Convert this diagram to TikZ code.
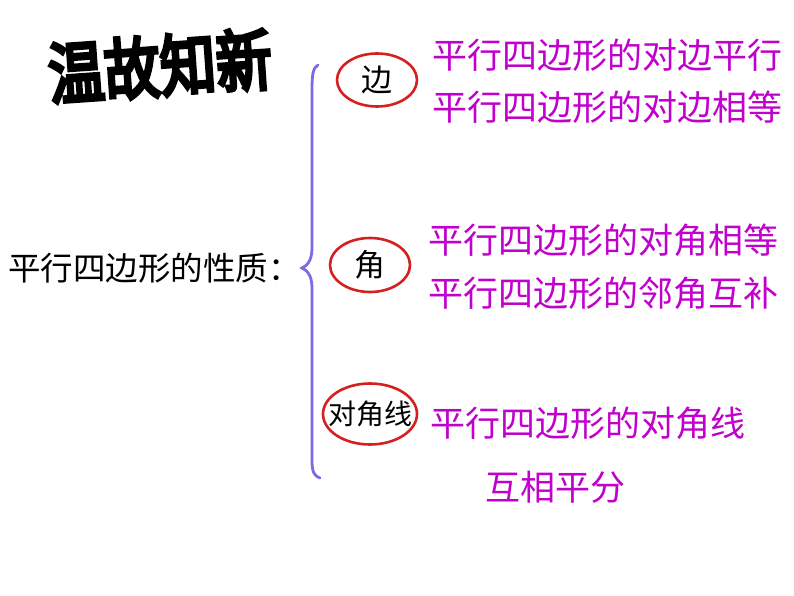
\documentclass[tikz,border=0pt]{standalone}
\usepackage{fontspec}
\newfontfamily\cjk{Noto Sans CJK SC}
\newfontfamily\cjkheavy[FakeBold=6]{Noto Sans CJK SC}
\usepackage{xcolor}
\definecolor{bracepurple}{HTML}{7B6CE6}
\definecolor{ringred}{HTML}{D42020}
\definecolor{propmagenta}{HTML}{C000CC}
\usepackage{tikz}
\usetikzlibrary{shapes.geometric, positioning}

\begin{document}
\begin{tikzpicture}[x=1pt, y=-1pt,
  ring/.style={ellipse, draw=ringred, line width=2.6pt, inner sep=0pt},
  prop/.style={anchor=west, inner sep=0pt, text=propmagenta, font=\cjk\fontsize{35}{35}\selectfont}
]
\useasboundingbox (0,0) rectangle (794,596);

% Title
\node[font=\cjkheavy\fontsize{56}{56}\selectfont, rotate=4, yscale=1.2] (title) at (160,66) {温故知新};

% Left label
\node[anchor=west, inner sep=0pt, font=\cjk\fontsize{32.5}{32.5}\selectfont] (main) at (8,268) {平行四边形的性质：};

% Brace
\coordinate (btop) at (318,65);
\coordinate (btip) at (302,268);
\coordinate (bbot) at (320,478);
\draw[bracepurple, line width=2.8pt, line cap=round]
  (btop) .. controls (313,68) and (312,74) .. (312,90) -- (312,248)
  .. controls (312,262) and (306,266) .. (btip)
  .. controls (306,270) and (312,274) .. (312,288) -- (312,460)
  .. controls (312,472) and (314,476) .. (bbot);

% Circled keys
\node[ring, minimum width=80pt, minimum height=53pt, font=\cjk\fontsize{31}{31}\selectfont] (edge) at (377,80) {边};
\node[ring, minimum width=80pt, minimum height=54pt, font=\cjk\fontsize{31}{31}\selectfont] (angle) at (370,265) {角};
\node[ring, minimum width=94pt, minimum height=61pt] (diag) at (370,414) {};
\node[font=\cjk\fontsize{28}{28}\selectfont, inner sep=0pt] (diagtext) at (370,414) {对角线};

% Properties
\node[prop] (p1) at (432,55) {平行四边形的对边平行};
\node[prop] (p2) at (432,107) {平行四边形的对边相等};
\node[prop] (p3) at (428,240) {平行四边形的对角相等};
\node[prop] (p4) at (428,293) {平行四边形的邻角互补};
\node[prop] (p5) at (430,423) {平行四边形的对角线};
\node[prop] (p6) at (485,487) {互相平分};
\end{tikzpicture}
\end{document}
